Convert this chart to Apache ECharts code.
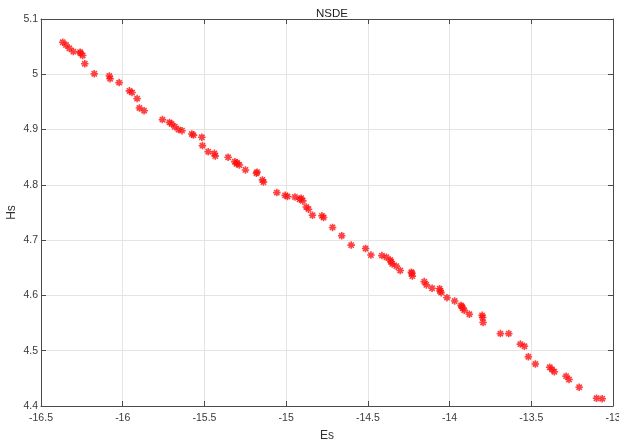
<!DOCTYPE html>
<html>
<head>
<meta charset="utf-8">
<script src="https://cdn.jsdelivr.net/npm/echarts@6/dist/echarts.min.js"></script>
<style>
  html, body { margin: 0; padding: 0; background: #fff; }
  #main { width: 619px; height: 445px; }
</style>
</head>
<body>
<div id="main"></div>
<script>
// Es / Hs values
var esValues = [
  -16.367, -16.347, -16.327, -16.302, -16.261, -16.245, -16.232, -16.174, -16.082, -16.077,
  -16.022, -15.959, -15.943, -15.912, -15.898, -15.869, -15.757, -15.714, -15.681, -15.659,
  -15.637, -15.577, -15.567, -15.516, -15.512, -15.477, -15.439, -15.434, -15.355, -15.314,
  -15.304, -15.286, -15.249, -15.182, -15.145, -15.139, -15.057, -15.006, -14.992, -14.946,
  -14.918, -14.898, -14.877, -14.863, -14.839, -14.781, -14.771, -14.716, -14.660, -14.602,
  -14.514, -14.481, -14.414, -14.387, -14.363, -14.351, -14.326, -14.302, -14.234, -14.228,
  -14.155, -14.142, -14.107, -14.061, -14.052, -14.016, -13.969, -13.930, -13.920, -13.910,
  -13.879, -13.801, -13.795, -13.689, -13.638, -13.567, -13.542, -13.518, -13.475, -13.387,
  -13.373, -13.359, -13.287, -13.269, -13.207, -13.101, -13.066,
  -16.258, -15.700, -15.300, -15.178, -14.908, -14.358, -14.230, -14.058, -13.925, -13.798
];
var hsValues = [
  5.058, 5.053, 5.047, 5.041, 5.040, 5.034, 5.019, 5.001, 4.997, 4.992,
  4.985, 4.970, 4.967, 4.956, 4.939, 4.934, 4.918, 4.913, 4.905, 4.900,
  4.898, 4.892, 4.890, 4.886, 4.871, 4.860, 4.857, 4.852, 4.850, 4.842,
  4.838, 4.836, 4.827, 4.821, 4.809, 4.805, 4.786, 4.781, 4.779, 4.778,
  4.774, 4.771, 4.760, 4.756, 4.745, 4.744, 4.741, 4.723, 4.708, 4.691,
  4.685, 4.673, 4.672, 4.669, 4.664, 4.657, 4.653, 4.645, 4.642, 4.635,
  4.625, 4.619, 4.613, 4.612, 4.605, 4.596, 4.590, 4.582, 4.577, 4.573,
  4.566, 4.564, 4.551, 4.531, 4.531, 4.512, 4.508, 4.489, 4.476, 4.470,
  4.466, 4.462, 4.454, 4.448, 4.434, 4.414, 4.413,
  5.038, 4.910, 4.840, 4.823, 4.776, 4.661, 4.640, 4.608, 4.580, 4.560
];
var xTicks = [-16.5, -16, -15.5, -15, -14.5, -14, -13.5, -13];
var yTicks = [4.4, 4.5, 4.6, 4.7, 4.8, 4.9, 5.0, 5.1];

var points = esValues.map(function (v, i) { return [v, hsValues[i]]; });

var myChart = echarts.init(document.getElementById('main'));

var tickFont = { color: '#3a3a3a', fontSize: 10.5, fontFamily: 'Liberation Sans, Arial, sans-serif' };
var axisDark = '#4a4a4a';

var option = {
  animation: false,
  backgroundColor: '#fff',
  title: {
    text: 'NSDE',
    left: 327,
    top: 3,
    textAlign: 'center',
    textStyle: { fontSize: 11.5, fontWeight: 'normal', color: '#222', fontFamily: 'Liberation Sans, Arial, sans-serif' }
  },
  grid: { left: 41, right: 6, top: 19, bottom: 39, containLabel: false, outerBoundsMode: 'none' },
  xAxis: [{
    type: 'value',
    min: xTicks[0],
    max: xTicks[xTicks.length - 1],
    interval: 0.5,
    name: 'Es',
    nameLocation: 'middle',
    nameGap: 24,
    nameMoveOverlap: false,
    nameTextStyle: { color: '#333', fontSize: 12, fontFamily: 'Liberation Sans, Arial, sans-serif' },
    axisLine: { lineStyle: { color: axisDark, width: 1 } },
    axisTick: { inside: true, length: 5, lineStyle: { color: axisDark } },
    axisLabel: Object.assign({ margin: 7, formatter: function (v) { return String(v); } }, tickFont),
    splitLine: { show: true, lineStyle: { color: '#e4e4e4', width: 1 } }
  }, {
    type: 'value',
    position: 'top',
    min: xTicks[0],
    max: xTicks[xTicks.length - 1],
    interval: 0.5,
    axisLine: { lineStyle: { color: axisDark, width: 1 } },
    axisTick: { inside: true, length: 5, lineStyle: { color: axisDark } },
    axisLabel: { show: false },
    splitLine: { show: false }
  }],
  yAxis: [{
    type: 'value',
    min: yTicks[0],
    max: yTicks[yTicks.length - 1],
    interval: 0.1,
    name: 'Hs',
    nameLocation: 'middle',
    nameGap: 23,
    nameMoveOverlap: false,
    nameTextStyle: { color: '#333', fontSize: 12, fontFamily: 'Liberation Sans, Arial, sans-serif' },
    axisLine: { show: true, lineStyle: { color: axisDark, width: 1 } },
    axisTick: { show: true, inside: true, length: 5, lineStyle: { color: axisDark } },
    axisLabel: Object.assign({ margin: 3, formatter: function (v) { return String(+v.toFixed(1)); } }, tickFont),
    splitLine: { show: true, lineStyle: { color: '#e4e4e4', width: 1 } }
  }, {
    type: 'value',
    position: 'right',
    min: yTicks[0],
    max: yTicks[yTicks.length - 1],
    interval: 0.1,
    axisLine: { show: true, lineStyle: { color: axisDark, width: 1 } },
    axisTick: { show: true, inside: true, length: 5, lineStyle: { color: axisDark } },
    axisLabel: { show: false },
    splitLine: { show: false }
  }],
  series: [{
    name: 'NSDE',
    type: 'scatter',
    xAxisIndex: 0,
    yAxisIndex: 0,
    symbol: 'path://M0,-10L0,10M-10,0L10,0M-7,-7L7,7M-7,7L7,-7',
    symbolSize: 7.5,
    itemStyle: { color: 'rgba(0,0,0,0)', borderColor: '#ff1010', borderWidth: 1.6 },
    data: points
  }]
};

myChart.setOption(option);
</script>
</body>
</html>
